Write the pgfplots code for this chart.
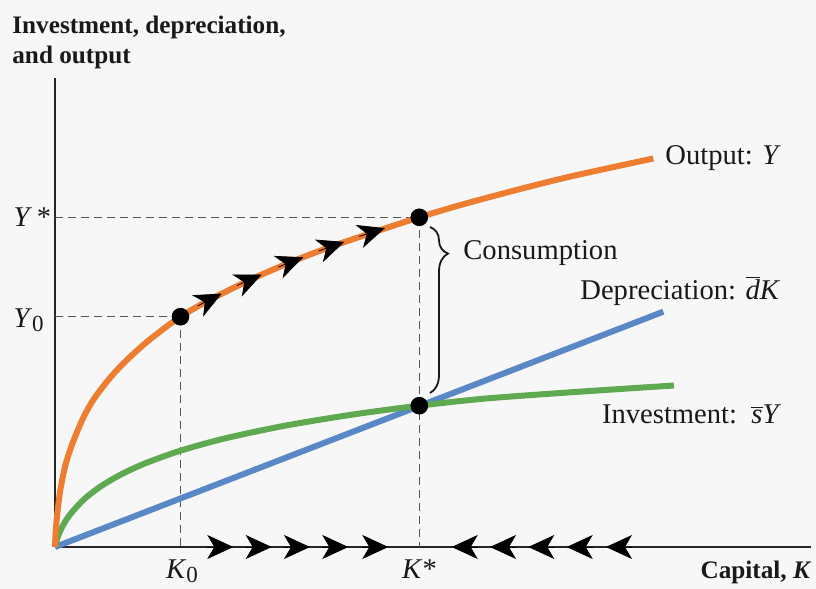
\documentclass[border=0pt]{standalone}
\usepackage{pgfplots}
\pgfplotsset{compat=1.18}
\usepackage{fontspec}
\setmainfont{Liberation Serif}
\usetikzlibrary{arrows.meta,decorations.pathreplacing}
\definecolor{bgcol}{RGB}{247,247,247}
\definecolor{orangec}{RGB}{237,125,49}
\definecolor{bluec}{RGB}{90,135,198}
\definecolor{greenc}{RGB}{95,170,80}
\definecolor{dashc}{RGB}{85,85,85}
\definecolor{txt}{RGB}{25,25,25}
\newcommand{\lab}{\fontsize{14.3}{16}\selectfont}
\newcommand{\ttl}{\fontsize{12.6}{15}\selectfont\bfseries}
\begin{document}
\begin{tikzpicture}
\path[use as bounding box, fill=bgcol] (-27.5pt,-21pt) rectangle (380.5pt,273.5pt);
\begin{axis}[
  x=0.5pt, y=0.5pt,
  xmin=0, xmax=756, ymin=0, ymax=469,
  enlargelimits=false,
  axis x line*=bottom, axis y line*=left,
  axis line style={line width=1.2pt, color=black!85},
  xtick=\empty, ytick=\empty,
  clip=false,
]
% dashed guides
\addplot[dashc, line width=0.7pt, dash pattern=on 4pt off 2.5pt] coordinates {(0,329.7) (364.3,329.7)};
\addplot[dashc, line width=0.7pt, dash pattern=on 4pt off 2.5pt] coordinates {(364.3,329.7) (364.3,0)};
\addplot[dashc, line width=0.7pt, dash pattern=on 4pt off 2.5pt] coordinates {(0,230.3) (125.5,230.3)};
\addplot[dashc, line width=0.7pt, dash pattern=on 4pt off 2.5pt] coordinates {(125.5,230.3) (125.5,0)};
% depreciation
\addplot[bluec, line width=3pt] coordinates {(0,0) (608.3,235.3)};
% investment
\addplot[greenc, line width=3pt, smooth] coordinates {
(0,0) (1,4.3) (2,7.7) (4,13.2) (8.3,22.2) (15,32.4) (28.3,47) (45,60.1) (65,72)
(90,83.6) (125.5,96.3) (170,108.6) (230,121.3) (300,132.8) (364.3,141.3)
(430,148.4) (520,155) (619,161.5)};
% output
\addplot[orangec, line width=3pt, smooth] coordinates {
(0,0) (0.6,14) (2,30.6) (5,54.8) (10,80.3) (16,99.5) (21.7,114.2) (29,130.8)
(37.7,146.2) (48,160.4) (60,174.8) (75,190) (95,207.6) (125.5,230.3) (160,249.9)
(210,273.9) (270,298.1) (364.3,329.7) (430,348.7) (510,369.2) (598.3,388.5)};
% arrows on output curve
\addplot[black, line width=0.4pt, -{Stealth[length=13.5pt,width=12pt,inset=4pt]},
  quiver={u=\thisrow{u}, v=\thisrow{v}}] table {
x y u v
142.7 241.1 24.0 12.3
182.0 261.5 24.7 10.9
223.2 279.9 25.1 9.9
263.8 296.1 25.5 9.0
304.3 310.6 25.7 8.3
};
% arrows on capital axis
\addplot[black, line width=0.4pt, -{Stealth[length=13pt,width=12pt,inset=3.5pt]},
  quiver={u=\thisrow{u}, v=\thisrow{v}}] table {
x y u v
152.3 0 26 0
190.7 0 26 0
229.0 0 26 0
267.3 0 26 0
307.3 0 26 0
422.7 0 -26 0
461.0 0 -26 0
499.3 0 -26 0
537.7 0 -26 0
577.0 0 -26 0
};
% points
\addplot[only marks, mark=*, mark size=4.2pt, black] coordinates {(125.5,230.3) (364.3,329.7) (364.3,141.3)};
% brace
\draw[txt, line width=0.9pt, decorate, decoration={brace, amplitude=9pt, aspect=0.16}]
  (axis cs:375,320) -- (axis cs:375,154);
% labels
\node[txt, anchor=base west, inner sep=0pt, font=\lab] at (axis cs:408,287.7) {Consumption};
\node[txt, anchor=base west, inner sep=0pt, font=\lab] at (axis cs:610,382) {Output: \textit{Y}};
\node[txt, anchor=base west, inner sep=0pt, font=\lab] at (axis cs:525,247) {Depreciation: $\overline{\hbox{\lab\textit{d}}}$\textit{K}};
\node[txt, anchor=base west, inner sep=0pt, font=\lab] at (axis cs:546.7,123.7) {Investment:\ \ $\overline{\hbox{\lab\textit{s}}}$\textit{Y}};
\node[txt, anchor=base west, inner sep=0pt, font=\lab] at (axis cs:-41.7,320.3) {\textit{Y}\,*};
\node[txt, anchor=base west, inner sep=0pt, font=\lab] at (axis cs:-41.7,219.7) {\textit{Y}\raisebox{-0.35ex}{\fontsize{11.5}{12}\selectfont 0}};
\node[txt, anchor=base, inner sep=0pt, font=\lab] at (axis cs:127,-32) {\textit{K}\raisebox{-0.3ex}{\fontsize{11.5}{12}\selectfont 0}};
\node[txt, anchor=base, inner sep=0pt, font=\lab] at (axis cs:364.5,-32) {\textit{K}*};
\node[txt, anchor=base east, inner sep=0pt, font=\ttl] at (axis cs:756.7,-32) {Capital, \textit{K}};
\node[txt, anchor=base west, inner sep=0pt, font=\ttl] at (axis cs:-43,513.7) {Investment, depreciation,};
\node[txt, anchor=base west, inner sep=0pt, font=\ttl] at (axis cs:-43,483.7) {and output};
\end{axis}
\end{tikzpicture}
\end{document}
